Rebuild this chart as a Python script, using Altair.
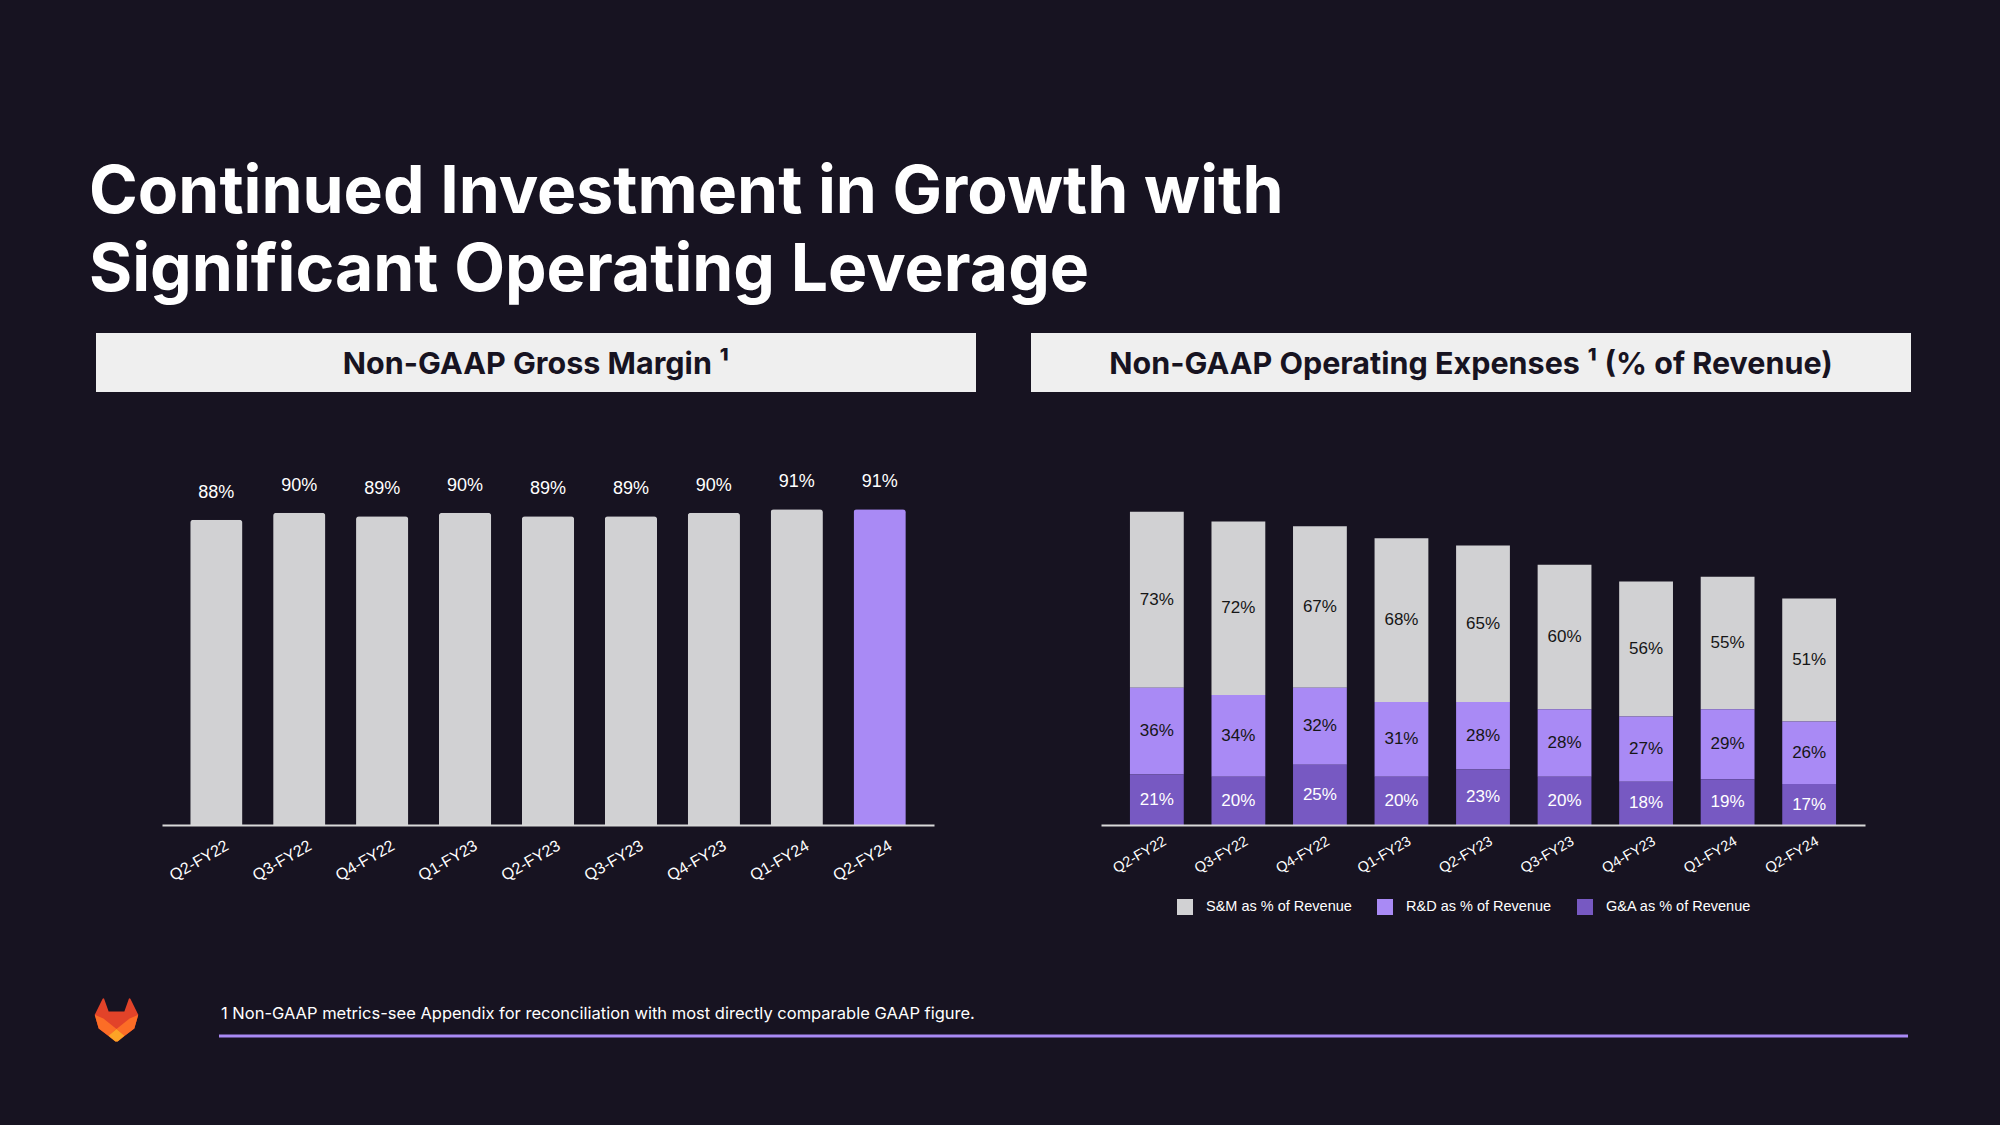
import altair as alt
import pandas as pd

# ---------------- data ----------------
quarters = ["Q2-FY22", "Q3-FY22", "Q4-FY22", "Q1-FY23", "Q2-FY23",
            "Q3-FY23", "Q4-FY23", "Q1-FY24", "Q2-FY24"]
gross_margin = [88, 90, 89, 90, 89, 89, 90, 91, 91]
sm_pct = [73, 72, 67, 68, 65, 60, 56, 55, 51]
rd_pct = [36, 34, 32, 31, 28, 28, 27, 29, 26]
ga_pct = [21, 20, 25, 20, 23, 20, 18, 19, 17]
series_names = ["S&M as % of Revenue", "R&D as % of Revenue", "G&A as % of Revenue"]

slide_title = ["Continued Investment in Growth with", "Significant Operating Leverage"]
left_header = "Non-GAAP Gross Margin \u00b9"
right_header = "Non-GAAP Operating Expenses \u00b9 (% of Revenue)"
footnote = "1 Non-GAAP metrics-see Appendix for reconciliation with most directly comparable GAAP figure."

# ---------------- styles ----------------
BG = "#171321"
GREY = "#d1d1d3"
PURPLE = "#a98af5"
DPURPLE = "#7759c2"
HDR_BG = "#efefef"
series_colors = [GREY, PURPLE, DPURPLE]

LEFT_X0, TOP = 162, 478
PANEL_H = 347
LEFT_W, RIGHT_W = 772, 764
RIGHT_X0 = 1101
W, H = 2000, 1125

one = pd.DataFrame({"k": [0]})
deco = alt.Chart(one)

# ---------------- left panel ----------------
bg = deco.mark_rect(fill=BG, strokeWidth=0).encode(
    x=alt.value(-LEFT_X0), x2=alt.value(W - LEFT_X0),
    y=alt.value(-TOP), y2=alt.value(H - TOP))

title = deco.mark_text(align="left", baseline="alphabetic", font="Inter",
                       fontWeight="bold", fontSize=66, lineHeight=78,
                       color="#ffffff").encode(
    x=alt.value(89 - LEFT_X0), y=alt.value(213 - TOP),
    text=alt.value(slide_title))

def header(x0, x1, text):
    r = deco.mark_rect(fill=HDR_BG, strokeWidth=0).encode(
        x=alt.value(x0), x2=alt.value(x1), y=alt.value(-145), y2=alt.value(-86))
    t = deco.mark_text(align="center", baseline="middle", font="Inter",
                       fontWeight="bold", fontSize=30.5, color=BG).encode(
        x=alt.value((x0 + x1) / 2), y=alt.value(-113), text=alt.value(text))
    return r, t

lh_rect, lh_text = header(96 - LEFT_X0, 976 - LEFT_X0, left_header)

gm_df = pd.DataFrame({"q": quarters, "v": gross_margin})

xL = alt.X("q:N", sort=quarters,
           scale=alt.Scale(paddingInner=0.37, paddingOuter=0.34),
           axis=alt.Axis(title=None, labelAngle=330, labelAlign="right",
                         labelBaseline="top", labelOffset=7, labelPadding=12,
                         ticks=False, domainColor="#d9d9d9", domainWidth=2,
                         labelColor="#ffffff", labelFont="Liberation Sans",
                         labelFontSize=16, zindex=1))
yL = alt.Y("v:Q", scale=alt.Scale(domain=[0, 100]), axis=None)

gm_base = alt.Chart(gm_df).transform_calculate(label="datum.v + '%'")
gm_bars = gm_base.mark_bar(cornerRadiusTopLeft=3, cornerRadiusTopRight=3).encode(
    x=xL, y=yL,
    color=alt.condition(alt.datum.q == quarters[-1], alt.value(PURPLE), alt.value(GREY)))
gm_labels = gm_base.mark_text(baseline="alphabetic", dy=-22, font="Liberation Sans",
                              fontSize=18, color="#ffffff").encode(
    x=xL, y=yL, text="label:N")

foot_text = deco.mark_text(align="left", baseline="middle", font="Inter",
                           fontSize=16.5, color="#ffffff").encode(
    x=alt.value(221 - LEFT_X0), y=alt.value(1014 - TOP), text=alt.value(footnote))
foot_rule = deco.mark_rule(color=PURPLE, strokeWidth=3).encode(
    x=alt.value(219 - LEFT_X0), x2=alt.value(1908 - LEFT_X0), y=alt.value(1036 - TOP))

# GitLab tanuki logo (simplified polygons in a 24x24 box)
def poly(pts):
    s = []
    for i, (px, py) in enumerate(pts):
        s.append(("M" if i == 0 else "L") + f"{(px - 12) / 12:.3f},{(py - 12) / 12:.3f}")
    return " ".join(s) + " Z"

logo_parts = [
    ([(0.4, 9.5), (4.6, 0.9), (5.3, 0.6), (7.8, 7.7), (16.2, 7.7), (18.7, 0.6),
      (19.4, 0.9), (23.6, 9.5), (21.5, 16.8), (12.6, 23.7), (11.4, 23.7), (2.5, 16.8)], "#E24329"),
    ([(0.4, 9.5), (5, 11.5), (12, 17.1), (7.7, 20.6), (2.5, 16.8)], "#FC6D26"),
    ([(23.6, 9.5), (19, 11.5), (12, 17.1), (16.3, 20.6), (21.5, 16.8)], "#FC6D26"),
    ([(7.7, 20.6), (12, 17.1), (16.3, 20.6), (12.6, 23.7), (11.4, 23.7)], "#FCA326"),
]
logo_layers = [
    deco.mark_point(shape=poly(p), filled=True, fill=c, opacity=1, strokeWidth=0,
                    size=45 * 45).encode(x=alt.value(116.5 - LEFT_X0), y=alt.value(1019.5 - TOP))
    for p, c in logo_parts
]

left = alt.layer(bg, title, lh_rect, lh_text, gm_bars, gm_labels, foot_text, foot_rule,
                 *logo_layers).properties(width=LEFT_W, height=PANEL_H)

# ---------------- right panel ----------------
rows = []
for i, q in enumerate(quarters):
    for j, (name, vals) in enumerate(zip(series_names, [sm_pct, rd_pct, ga_pct])):
        rows.append({"q": q, "series": name, "v": vals[i], "ord": 2 - j})
ox_df = pd.DataFrame(rows)

rh_rect, rh_text = header(1031 - RIGHT_X0, 1911 - RIGHT_X0, right_header)

xR = alt.X("q:N", sort=quarters,
           scale=alt.Scale(paddingInner=0.34, paddingOuter=0.355),
           axis=alt.Axis(title=None, labelAngle=330, labelAlign="right",
                         labelBaseline="top", labelOffset=5, labelPadding=9,
                         ticks=False, domainColor="#d9d9d9", domainWidth=2,
                         labelColor="#ffffff", labelFont="Liberation Sans",
                         labelFontSize=14.5, zindex=1))
yscale = alt.Scale(domain=[0, 144])

ox_base = alt.Chart(ox_df).transform_stack(
    stack="v", groupby=["q"], sort=[alt.SortField("ord", order="ascending")],
    as_=["v0", "v1"]).transform_calculate(
    mid="(datum.v0 + datum.v1) / 2", label="datum.v + '%'")

ox_bars = ox_base.mark_bar().encode(
    x=xR,
    y=alt.Y("v0:Q", scale=yscale, axis=None),
    y2="v1:Q",
    color=alt.Color("series:N",
                    scale=alt.Scale(domain=series_names, range=series_colors),
                    legend=alt.Legend(orient="none", legendX=76, legendY=421,
                                      direction="horizontal", columns=3, title=None,
                                      symbolType="square", symbolSize=256,
                                      symbolStrokeWidth=0, symbolOpacity=1,
                                      labelFont="Liberation Sans", labelFontSize=14.5,
                                      labelColor="#ffffff", columnPadding=25,
                                      labelOffset=13, padding=0)))
ox_labels = ox_base.mark_text(baseline="middle", font="Liberation Sans", fontSize=17).encode(
    x=xR,
    y=alt.Y("mid:Q", scale=yscale, axis=None),
    text="label:N",
    color=alt.condition(alt.datum.series == series_names[2],
                        alt.value("#ffffff"), alt.value("#161616")))

right = alt.layer(rh_rect, rh_text, ox_bars, ox_labels).properties(
    width=RIGHT_W, height=PANEL_H)

chart = alt.hconcat(left, right, spacing=RIGHT_X0 - (LEFT_X0 + LEFT_W), bounds="flush").resolve_scale(
    color="independent", x="independent", y="independent"
).resolve_legend(color="independent").properties(
    padding=0, background=BG
).configure_view(stroke=None)

chart.save("out.html", embed_options={"renderer": "svg", "actions": False})
